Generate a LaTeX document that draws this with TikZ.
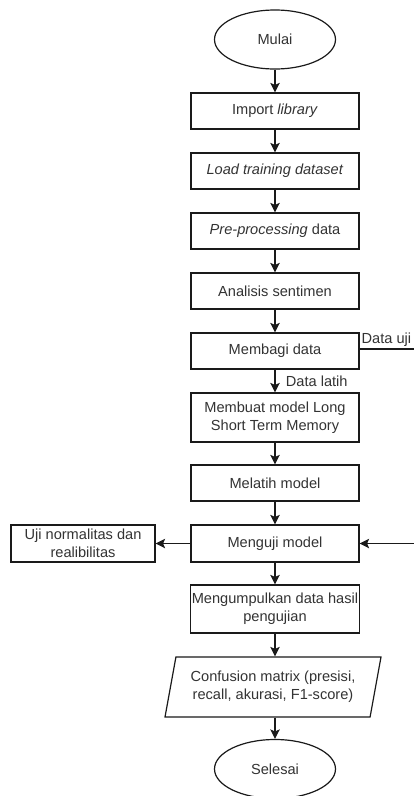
\documentclass[tikz,border=0pt]{standalone}
\usepackage{fontspec}
\setmainfont{Liberation Sans}
\usepackage{tikz}
\usetikzlibrary{arrows.meta,positioning,shapes.geometric}
\definecolor{boxborder}{HTML}{1A1A1A}
\definecolor{boxtext}{HTML}{333333}

\begin{document}
\begin{tikzpicture}[x=1pt,y=-1pt,font=\fontsize{14.6}{18}\selectfont,
  every node/.style={text=boxtext},
  stepbox/.style={draw=boxborder,line width=1.2pt,minimum width=168pt,minimum height=36pt,align=center,inner sep=1pt},
  termbox/.style={draw=boxborder,line width=1.2pt,ellipse,minimum width=121pt,minimum height=59pt},
  iobox/.style={draw=boxborder,line width=1.2pt,trapezium,trapezium left angle=72,trapezium right angle=108,trapezium stretches body,minimum width=216pt,minimum height=60pt,align=center,inner sep=1pt},
  flow/.style={draw=boxborder,line width=1.2pt,-{Stealth[length=9.5pt,width=9.5pt,inset=2pt]}}]
\useasboundingbox[fill=white] (0,0) rectangle (413,796);
\node[termbox] (mulai) at (275,39.5) {Mulai};
\node[stepbox] (impor) at (275,111) {Import \textit{library}};
\node[stepbox] (muat) at (275,171) {\textit{Load training dataset}};
\node[stepbox] (prapros) at (275,231) {\textit{Pre-processing} data};
\node[stepbox] (analisis) at (275,291) {Analisis sentimen};
\node[stepbox] (bagi) at (275,351) {Membagi data};
\node[stepbox,minimum height=49pt] (lstm) at (275,417.5) {Membuat model Long\\Short Term Memory};
\node[stepbox] (latih) at (275,483) {Melatih model};
\node[stepbox,minimum height=37pt] (uji) at (275,543.5) {Menguji model};
\node[stepbox,minimum width=144pt,minimum height=37pt] (normal) at (83,543.5) {Uji normalitas dan\\realibilitas};
\node[stepbox,minimum height=48pt] (kumpul) at (275,609) {Mengumpulkan data hasil\\pengujian};
\node[iobox] (hasil) at (273,687) {Confusion matrix (presisi,\\recall, akurasi, F1-score)};
\node[termbox] (selesai) at (275,769) {Selesai};
\coordinate (ujikanan) at (430,349);
\coordinate (ujibawah) at (430,543.5);

\foreach \a/\b in {mulai/impor,impor/muat,muat/prapros,prapros/analisis,analisis/bagi,lstm/latih,latih/uji,uji/kumpul}
  \draw[flow] (\a) -- (\b);
\draw[flow] (kumpul) -- (kumpul |- hasil.north);
\draw[flow] (hasil.south -| selesai) -- (selesai);
\draw[flow] (bagi) -- node[right,xshift=7pt] {Data latih} (lstm);
\draw[flow] (bagi.east |- ujikanan) -- node[pos=0,anchor=south west,inner sep=1.5pt] {Data uji} (ujikanan) -- (ujibawah) -- (uji.east);
\draw[flow] (uji) -- (normal);
\end{tikzpicture}
\end{document}
